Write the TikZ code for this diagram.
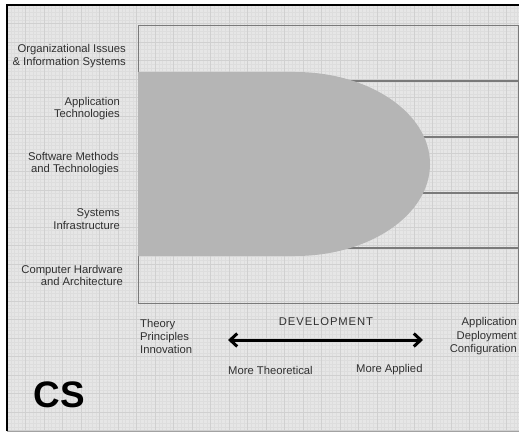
\documentclass[tikz,border=0pt]{standalone}
\usepackage{fontspec}
\setmainfont{Liberation Sans}
\usetikzlibrary{arrows.meta}

\definecolor{paperGray}{HTML}{E6E6E6}
\definecolor{gridMinor}{HTML}{DDDDDD}
\definecolor{gridMajor}{HTML}{D0D0D0}
\definecolor{blobGray}{HTML}{B5B5B5}
\definecolor{lineGray}{HTML}{7A7A7A}
\definecolor{textGray}{HTML}{303030}

\tikzset{
  areaLabel/.style={anchor=east, align=right, inner sep=0pt, text=textGray,
    font=\fontsize{11.3}{12.5}\selectfont},
  scaleLabel/.style={inner sep=0pt, text=textGray, font=\fontsize{11.3}{13.5}\selectfont},
  devArrow/.style={{Straight Barb[length=7bp,width=13bp]}-{Straight Barb[length=7bp,width=13bp]},
    line width=3bp}
}

\begin{document}
\begin{tikzpicture}[x=1bp,y=-1bp]
    \useasboundingbox (0,0) rectangle (519,433);
    \fill[white] (0,0) rectangle (519,433);

    \coordinate (frameNW) at (7,5);
    \coordinate (frameSE) at (519,431);
    \coordinate (boxNW) at (138,26);
    \coordinate (boxSE) at (518,303);

    % graph paper
    \fill[paperGray] (frameNW) rectangle (frameSE);
    \foreach \x in {7,10.7,...,519} \draw[gridMinor, line width=0.4bp] (\x,5) -- (\x,431);
    \foreach \y in {5,8.7,...,431} \draw[gridMinor, line width=0.4bp] (7,\y) -- (519,\y);
    \foreach \x in {7,25.5,...,519} \draw[gridMajor, line width=0.6bp] (\x,5) -- (\x,431);
    \foreach \y in {5,23.5,...,431} \draw[gridMajor, line width=0.6bp] (7,\y) -- (519,\y);

    \draw[black, line width=2.5bp] (7,431) -- (frameNW) -- (519,5);
    \draw[lineGray!70, line width=0.8bp] (7,431) -- (frameSE);

    \draw[lineGray, line width=1bp] (boxNW) rectangle (boxSE);
    \foreach \y in {81,137,193,248} \draw[lineGray, line width=1.2bp] (138,\y) -- (518,\y);

    \fill[blobGray] (138,72) -- (295,72) arc[start angle=90, end angle=-90, x radius=135bp, y radius=92bp] -- (138,256) -- cycle;

    \node[areaLabel] (orgNode) at (126,56) {Organizational Issues\\\& Information Systems};
    \node[areaLabel] (appNode) at (120,108.5) {Application\\Technologies};
    \node[areaLabel] (softNode) at (119,163.5) {Software Methods\\and Technologies};
    \node[areaLabel] (sysNode) at (120,219) {Systems\\Infrastructure};
    \node[areaLabel] (hwNode) at (123,275.5) {Computer Hardware\\and Architecture};

    \node[scaleLabel, anchor=west, align=left] (theoryNode) at (140,336.5) {Theory\\Principles\\Innovation};
    \node[scaleLabel, anchor=east, align=right] (deployNode) at (517,336.5) {Application\\Deployment\\Configuration};
    \node[scaleLabel, font=\fontsize{11.3}{13}\selectfont\addfontfeature{LetterSpace=8}] (devNode) at (326,322) {DEVELOPMENT};

    \coordinate (theoEnd) at (228,340);
    \coordinate (applEnd) at (423,340);
    \draw[devArrow] (theoEnd) -- (applEnd);

    \node[scaleLabel, anchor=west] (moreTheoNode) at (228,370) {More Theoretical};
    \node[scaleLabel, anchor=west] (moreApplNode) at (356,370) {More Applied};

    \node[inner sep=0pt, font=\fontsize{37}{40}\selectfont\bfseries] (csNode) at (59,395) {CS};
\end{tikzpicture}
\end{document}
